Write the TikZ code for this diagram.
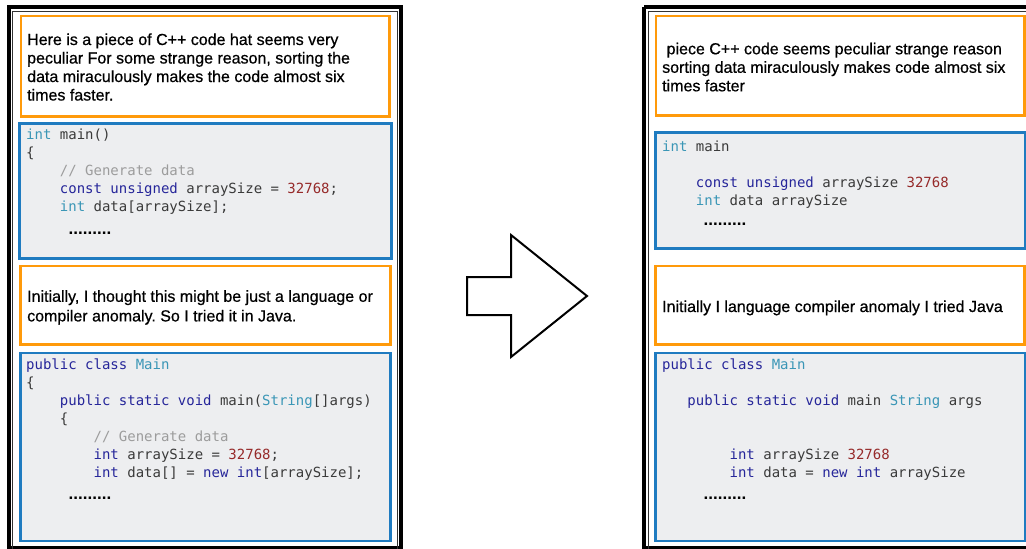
\documentclass[tikz,border=0pt]{standalone}
\usepackage{fontspec}
\setmainfont{Liberation Sans}
\newfontfamily\prosefont{Liberation Sans}[FakeBold=0.6]
\newfontfamily\codefont{DejaVu Sans Mono}

\definecolor{noteorange}{HTML}{FF9A0A}
\definecolor{codeblue}{HTML}{1F7BC0}
\definecolor{codegray}{HTML}{EDEEF0}
\definecolor{codetext}{HTML}{3A3A3A}
\definecolor{kw}{HTML}{26269A}
\definecolor{ty}{HTML}{3A96B6}
\definecolor{num}{HTML}{962A2A}
\definecolor{com}{HTML}{9C9C9C}

% monospace helpers: one character cell and indentation by cells
\newdimen\cw \cw=8.428pt
\newcommand\ind[1]{\hspace*{#1\cw}}
\newcommand\K[1]{\textcolor{kw}{#1}}
\newcommand\T[1]{\textcolor{ty}{#1}}
\newcommand\N[1]{\textcolor{num}{#1}}
\newcommand\C[1]{\textcolor{com}{#1}}
\frenchspacing

\begin{document}
\begin{tikzpicture}[x=1pt,y=-1pt,
  frame/.style={draw=black,line width=4pt},
  frameinner/.style={draw=black!80,line width=0.7pt},
  notebox/.style={draw=noteorange,line width=2.5pt,fill=white},
  codebox/.style={draw=codeblue,line width=2.6pt,fill=codegray},
  prose/.style={anchor=base west,inner sep=0pt,text=black,
    font=\prosefont\fontsize{16}{18.5}\selectfont},
  code/.style={anchor=base west,inner sep=0pt,text=codetext,
    font=\codefont\fontsize{14}{18}\selectfont},
  ellipsis/.style={anchor=base west,inner sep=0pt,text=black,
    font=\fontsize{17}{18}\selectfont\bfseries},
  bigarrow/.style={draw=black,line width=2pt,fill=white,line join=miter}]
\useasboundingbox (0,0) rectangle (1026,549);
\clip (0,0) rectangle (1026,549);

% ---------- left panel: original text ----------
\draw[frame] (8.7,7.3) rectangle (401.3,548);
\draw[frameinner] (12.6,11.2) -- (12.6,549) (12.6,11.2) -- (397.4,11.2) -- (397.4,549);

\draw[notebox] (21,16) rectangle (389.7,116.3);
\node[prose] (l-intro) at (27,45) {\parbox[t]{360pt}{\raggedright
  Here is a piece of C++ code hat seems very\\
  peculiar For some strange reason, sorting the\\
  data miraculously makes the code almost six\\
  times faster.}};

\draw[codebox] (19.6,123.6) rectangle (391.3,258.2);
\node[code] (l-cpp) at (26,139.5) {\parbox[t]{360pt}{\raggedright
  \T{int} main()\\
  \{\\
  \ind{4}\C{// Generate data}\\
  \ind{4}\K{const} \K{unsigned} arraySize = \N{32768};\\
  \ind{4}\T{int} data[arraySize];}};
\node[ellipsis] (l-cpp-more) at (68.5,234) {.........};

\draw[notebox] (20.6,266) rectangle (390.4,344.6);
\node[prose,font=\prosefont\fontsize{16}{19.6}\selectfont] (l-java-note) at (27,301.8) {\parbox[t]{360pt}{\raggedright
  Initially, I thought this might be just a language or\\
  compiler anomaly. So I tried it in Java.}};

\draw[codebox] (20.7,353) rectangle (390.7,541);
\node[code] (l-java) at (26,369.5) {\parbox[t]{360pt}{\raggedright
  \K{public} \K{class} \T{Main}\\
  \{\\
  \ind{4}\K{public} \K{static} \K{void} main(\T{String}[]args)\\
  \ind{4}\{\\
  \ind{8}\C{// Generate data}\\
  \ind{8}\K{int} arraySize = \N{32768};\\
  \ind{8}\K{int} data[] = \K{new} \K{int}[arraySize];}};
\node[ellipsis] (l-java-more) at (68.5,499) {.........};

% ---------- transformation arrow ----------
\draw[bigarrow] (467,277) -- (511,277) -- (511,235) -- (587,296)
  -- (511,357) -- (511,315) -- (467,315) -- cycle;

% ---------- right panel: filtered text ----------
\draw[frame] (644,7.3) -- (1040,7.3) (644,7.3) -- (644,548) -- (1040,548);
\draw[frameinner] (648,11.2) -- (648,549) (648,11.2) -- (1040,11.2);

\draw[notebox] (656,16) rectangle (1024.5,115.7);
\node[prose] (r-intro) at (662,54.3) {\parbox[t]{360pt}{\raggedright
  ~piece C++ code seems peculiar strange reason\\
  sorting data miraculously makes code almost six\\
  times faster}};

\draw[codebox] (655.3,132.3) rectangle (1025,248.7);
\node[code] (r-cpp) at (662,151) {\parbox[t]{360pt}{\raggedright
  \T{int} main\\
  \mbox{}\\
  \ind{4}\K{const} \K{unsigned} arraySize \N{32768}\\
  \ind{4}\T{int} data arraySize}};
\node[ellipsis] (r-cpp-more) at (703.5,225) {.........};

\draw[notebox] (655.3,266) rectangle (1024.5,344.6);
\node[prose] (r-java-note) at (662,312) {Initially I language compiler anomaly I tried Java};

\draw[codebox] (655.3,353) rectangle (1025,541);
\node[code] (r-java) at (662,369.5) {\parbox[t]{360pt}{\raggedright
  \K{public} \K{class} \T{Main}\\
  \mbox{}\\
  \ind{3}\K{public} \K{static} \K{void} main \T{String} args\\
  \mbox{}\\
  \mbox{}\\
  \ind{8}\K{int} arraySize \N{32768}\\
  \ind{8}\K{int} data = \K{new} \K{int} arraySize}};
\node[ellipsis] (r-java-more) at (703.5,499) {.........};
\end{tikzpicture}
\end{document}
